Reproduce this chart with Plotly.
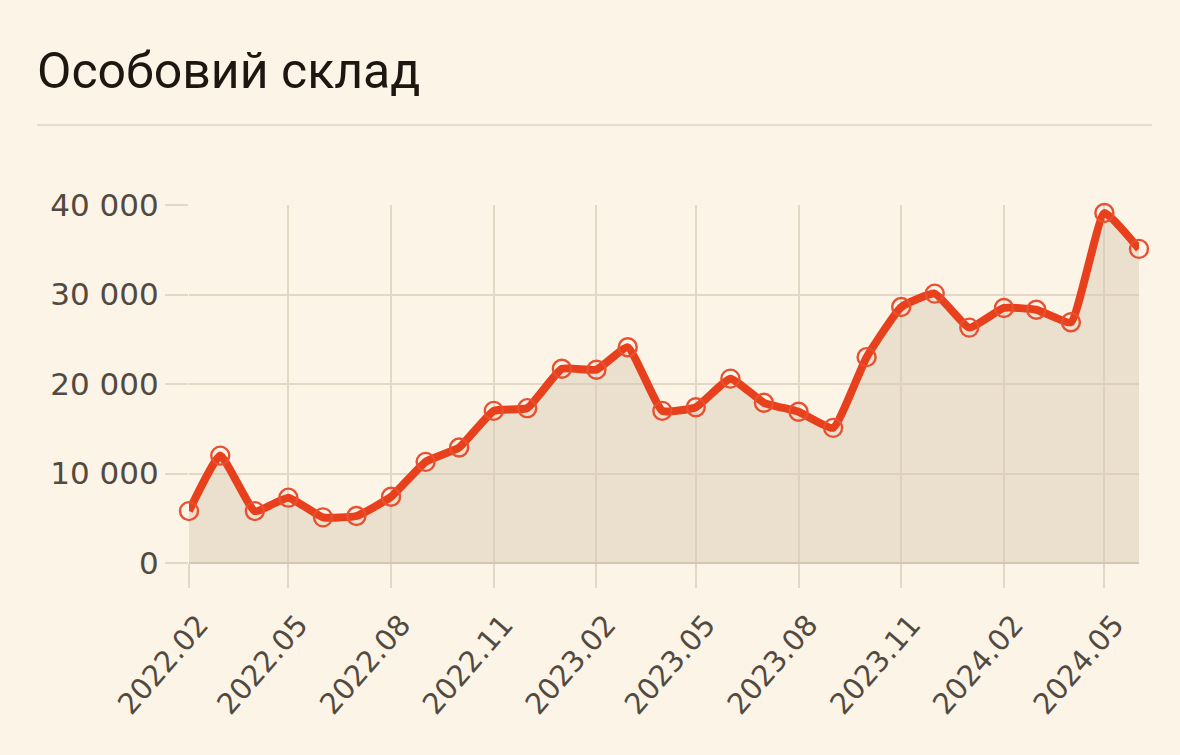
import plotly.graph_objects as go

months = ["2022-02","2022-03","2022-04","2022-05","2022-06","2022-07","2022-08","2022-09",
          "2022-10","2022-11","2022-12","2023-01","2023-02","2023-03","2023-04","2023-05",
          "2023-06","2023-07","2023-08","2023-09","2023-10","2023-11","2023-12","2024-01",
          "2024-02","2024-03","2024-04","2024-05","2024-06"]
personnel = [5800, 12000, 5800, 7300, 5100, 5250, 7400, 11300,
             12900, 17000, 17300, 21700, 21600, 24100, 17000, 17400,
             20600, 17900, 16900, 15100, 23000, 28600, 30100, 26300,
             28500, 28300, 26900, 39100, 35100]
tick_months = ["2022-02","2022-05","2022-08","2022-11","2023-02","2023-05",
               "2023-08","2023-11","2024-02","2024-05"]
y_ticks = [0, 10000, 20000, 30000, 40000]
title_text = "Особовий склад"

BG = "#fcf4e7"
LINE = "#e8401c"
FILL = "rgba(214,200,176,0.45)"
GRID = "#e3d8c6"
TEXT = "#524a40"
FONT = "Roboto, 'Liberation Sans', Arial, sans-serif"
TICKFONT = "'DejaVu Sans', Roboto, sans-serif"

fig = go.Figure()
fig.add_trace(go.Scatter(
    x=months, y=personnel, mode="lines+markers",
    line=dict(color=LINE, width=8, shape="spline", smoothing=0.4),
    fill="tozeroy", fillcolor=FILL,
    marker=dict(symbol="circle-open", size=18, color="#e85030", line=dict(width=2.4)),
    hoverinfo="x+y",
    cliponaxis=False,
))

fig.update_layout(
    width=1180, height=755,
    paper_bgcolor=BG, plot_bgcolor=BG,
    margin=dict(l=189, r=41, t=205, b=192),
    showlegend=False,
    separators=", ",
    font=dict(family=FONT, color=TEXT),
    xaxis=dict(
        type="date", range=["2022-02-01", "2024-06-01"],
        tickvals=tick_months, tickformat="%Y.%m", tickangle=-49,
        tickfont=dict(size=29, color=TEXT, family=TICKFONT),
        ticklabelshift=10, ticklabelstandoff=8,
        showgrid=True, gridcolor=GRID, gridwidth=2,
        ticks="outside", ticklen=24, tickcolor=GRID, tickwidth=2,
        showline=False, zeroline=False, fixedrange=True,
    ),
    yaxis=dict(
        range=[0, 40000], tickvals=y_ticks, tickformat=",d",
        tickfont=dict(size=31, color=TEXT, family=TICKFONT),
        showgrid=True, gridcolor=GRID, gridwidth=2,
        ticks="outside", ticklen=23, tickcolor=GRID, tickwidth=2,
        showline=False, zeroline=True, zerolinecolor="#d2c6b2", zerolinewidth=2,
        fixedrange=True,
    ),
    shapes=[dict(type="line", xref="paper", yref="paper",
                 x0=(37-189)/950, x1=(1152-189)/950,
                 y0=(755-192-125)/358, y1=(755-192-125)/358,
                 line=dict(color="#e6ddce", width=2))],
    annotations=[dict(text=title_text, xref="paper", yref="paper",
                      x=(35-189)/950, y=(755-192-71)/358, xanchor="left", yanchor="middle",
                      showarrow=False,
                      font=dict(size=50, color="#1e1610", family=FONT))],
)

fig.write_html("out.html", config={"displayModeBar": False},
               post_script="document.body.style.margin='0';document.body.style.overflow='hidden';")
